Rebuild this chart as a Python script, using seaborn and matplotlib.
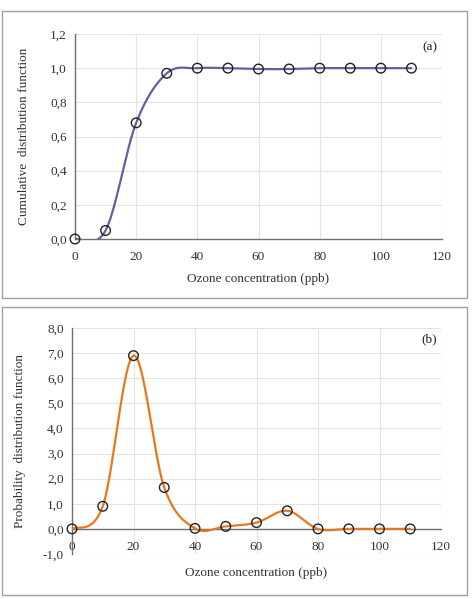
import numpy as np
import matplotlib.pyplot as plt
import seaborn as sns
from matplotlib.patches import Rectangle
from matplotlib.ticker import FuncFormatter, MultipleLocator

# Ozone concentration (ppb) and the two distribution functions
ozone = [0, 10, 20, 30, 40, 50, 60, 70, 80, 90, 100, 110]
cdf = [0.0, 0.05, 0.68, 0.97, 1.0, 1.0, 0.995, 0.995, 1.0, 1.0, 1.0, 1.0]
pdf = [0.0, 0.9, 6.9, 1.65, 0.02, 0.1, 0.25, 0.72, 0.0, 0.0, 0.0, 0.0]


def smooth(x, y, n=40):
    # excel style smoothed line (bezier through the points)
    x = np.asarray(x, float)
    y = np.asarray(y, float)
    px, py = [], []
    for i in range(len(x) - 1):
        i0 = max(i - 1, 0)
        i3 = min(i + 2, len(x) - 1)
        c1x = x[i] + (x[i + 1] - x[i0]) / 6
        c1y = y[i] + (y[i + 1] - y[i0]) / 6
        c2x = x[i + 1] - (x[i3] - x[i]) / 6
        c2y = y[i + 1] - (y[i3] - y[i]) / 6
        t = np.linspace(0, 1, n)
        px.extend((1 - t) ** 3 * x[i] + 3 * (1 - t) ** 2 * t * c1x
                  + 3 * (1 - t) * t ** 2 * c2x + t ** 3 * x[i + 1])
        py.extend((1 - t) ** 3 * y[i] + 3 * (1 - t) ** 2 * t * c1y
                  + 3 * (1 - t) * t ** 2 * c2y + t ** 3 * y[i + 1])
    return np.array(px), np.array(py)


sns.set_style('white')
plt.rcParams['font.family'] = ['Liberation Serif', 'DejaVu Serif']
plt.rcParams['font.size'] = 9

comma = FuncFormatter(lambda v, p: f'{v:.1f}'.replace('.', ','))

fig = plt.figure(figsize=(4.73, 5.99), dpi=100)
fig.add_artist(Rectangle((2 / 473, 1 - 298 / 599), 465 / 473, 287 / 599,
                         transform=fig.transFigure, fill=False,
                         edgecolor='#a0a0a0', lw=1))
fig.add_artist(Rectangle((2 / 473, 1 - 595 / 599), 465 / 473, 288 / 599,
                         transform=fig.transFigure, fill=False,
                         edgecolor='#a0a0a0', lw=1))

ax1 = fig.add_axes([75 / 473, 1 - 239 / 599, 367 / 473, 205 / 599])
ax2 = fig.add_axes([72 / 473, 1 - 554 / 599, 369 / 473, 226 / 599])

panels = [
    (ax1, cdf, '#62619f', (0, 1.2), 0.2,
     'Cumulative  distribution function', '(a)', 1.12),
    (ax2, pdf, '#e8781e', (-1, 8), 1.0,
     'Probability  distribution function', '(b)', 7.55),
]

for ax, vals, col, ylim, step, ylab, tag, tag_y in panels:
    sx, sy = smooth(ozone, vals)
    sns.lineplot(x=sx, y=sy, ax=ax, color=col, lw=1.6, sort=False,
                 estimator=None, zorder=3)
    sns.scatterplot(x=ozone, y=vals, ax=ax, s=48, facecolor='none',
                    edgecolor='#222222', linewidth=1.0, zorder=4,
                    clip_on=False)
    ax.set_xlim(0, 120)
    ax.set_ylim(*ylim)
    ax.xaxis.set_major_locator(MultipleLocator(20))
    ax.yaxis.set_major_locator(MultipleLocator(step))
    ax.yaxis.set_major_formatter(comma)
    ax.grid(True, color='#e4e4e4', lw=0.8)
    ax.set_axisbelow(True)
    for s in ['top', 'right']:
        ax.spines[s].set_visible(False)
    for s in ['left', 'bottom']:
        ax.spines[s].set_color('#707070')
        ax.spines[s].set_linewidth(1.0)
    ax.spines['bottom'].set_position(('data', 0))
    ax.tick_params(direction='out', length=4, width=0.8, color='#707070',
                   labelsize=9.5, labelcolor='#333333', pad=2)
    ax.tick_params(axis='x', pad=5)
    ax.set_ylabel(ylab, fontsize=9.5, color='#333333')
    ax.set_xlabel('Ozone concentration (ppb)', fontsize=9.5,
                  color='#333333')
    ax.text(116, tag_y, tag, fontsize=9.5, ha='center', va='center',
            color='#222222')

ax1.yaxis.set_label_coords(-0.122, 0.5)
ax2.yaxis.set_label_coords(-0.125, 0.5)
ax1.xaxis.set_label_coords(0.5, -0.165)
ax2.xaxis.set_label_coords(0.5, -0.058)

plt.savefig('out.png', dpi=100)
